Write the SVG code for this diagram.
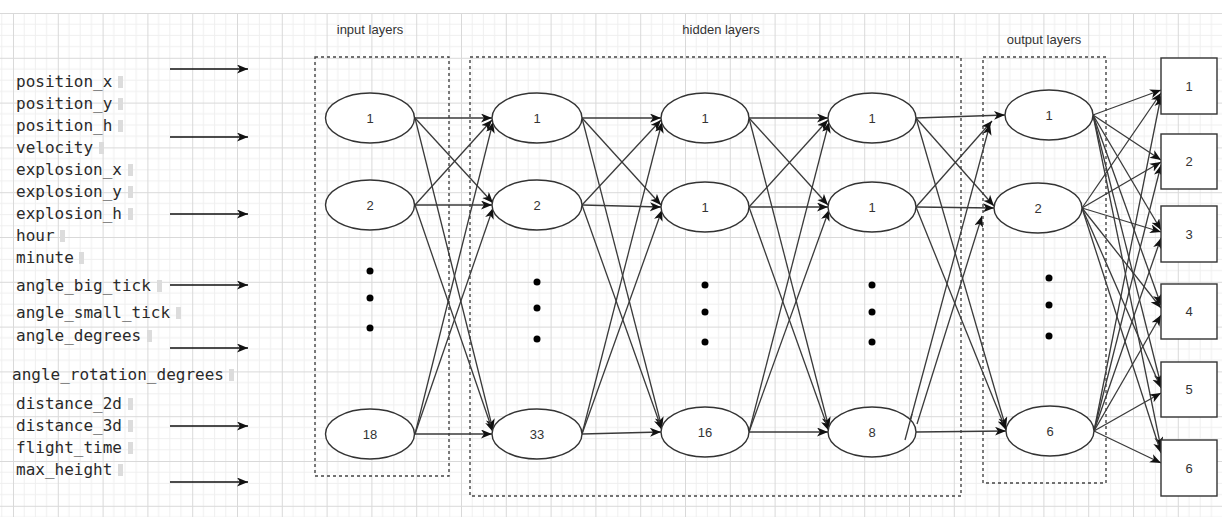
<svg xmlns="http://www.w3.org/2000/svg" width="1222" height="517" viewBox="0 0 1222 517">
<defs>
<pattern id="grid" patternUnits="userSpaceOnUse" x="13" y="13" width="44.8" height="44.8">
<path d="M11.2,0V44.8M22.4,0V44.8M33.6,0V44.8M0,11.2H44.8M0,22.4H44.8M0,33.6H44.8" stroke="#efefef" stroke-width="1" fill="none"/>
<path d="M0.5,0V44.8M0,0.5H44.8" stroke="#d9d9d9" stroke-width="1" fill="none"/>
</pattern>
<marker id="ah" markerUnits="userSpaceOnUse" markerWidth="14" markerHeight="12" refX="11" refY="4.5" orient="auto" viewBox="0 0 14 12">
<path d="M0,0 L11,4.5 L0,9 L3,4.5 Z" fill="#111"/>
</marker>
</defs>
<style>
.lbl{font-family:"DejaVu Sans Mono","Liberation Mono",monospace;font-size:16px;fill:#2a2a2a}
.ttl{font-family:"Liberation Sans",Arial,sans-serif;font-size:13px;fill:#333;text-anchor:middle}
.nt{font-family:"Liberation Sans",Arial,sans-serif;font-size:13px;fill:#333;text-anchor:middle;dominant-baseline:central}
.node ellipse,.node rect{fill:#fff;stroke:#333;stroke-width:1.4}
.dash{fill:none;stroke:#444;stroke-width:1.4;stroke-dasharray:3 3}
.mk{fill:#dcdcdc}
.dot{fill:#000}
#connectors line{stroke:#3a3a3a;stroke-width:1.3;marker-end:url(#ah)}
#connectors line.in{stroke:#111;stroke-width:1.6}
</style>
<rect width="1222" height="517" fill="#fff"/>
<rect x="0" y="13" width="1222" height="504" fill="url(#grid)"/>

<g id="input-labels">
<text class="lbl" x="16" y="87">position_x</text><rect class="mk" x="118" y="76" width="5" height="12"/>
<text class="lbl" x="16" y="109">position_y</text><rect class="mk" x="118" y="98" width="5" height="12"/>
<text class="lbl" x="16" y="131">position_h</text><rect class="mk" x="118" y="120" width="5" height="12"/>
<text class="lbl" x="16" y="153">velocity</text><rect class="mk" x="99" y="142" width="5" height="12"/>
<text class="lbl" x="16" y="175">explosion_x</text><rect class="mk" x="128" y="164" width="5" height="12"/>
<text class="lbl" x="16" y="197">explosion_y</text><rect class="mk" x="128" y="186" width="5" height="12"/>
<text class="lbl" x="16" y="219">explosion_h</text><rect class="mk" x="128" y="208" width="5" height="12"/>
<text class="lbl" x="16" y="241">hour</text><rect class="mk" x="60" y="230" width="5" height="12"/>
<text class="lbl" x="16" y="263">minute</text><rect class="mk" x="79" y="252" width="5" height="12"/>
<text class="lbl" x="16" y="291">angle_big_tick</text><rect class="mk" x="157" y="280" width="5" height="12"/>
<text class="lbl" x="16" y="318">angle_small_tick</text><rect class="mk" x="176" y="307" width="5" height="12"/>
<text class="lbl" x="16" y="341">angle_degrees</text><rect class="mk" x="147" y="330" width="5" height="12"/>
<text class="lbl" x="12" y="380">angle_rotation_degrees</text><rect class="mk" x="229" y="369" width="5" height="12"/>
<text class="lbl" x="16" y="409">distance_2d</text><rect class="mk" x="128" y="398" width="5" height="12"/>
<text class="lbl" x="16" y="431">distance_3d</text><rect class="mk" x="128" y="420" width="5" height="12"/>
<text class="lbl" x="16" y="453">flight_time</text><rect class="mk" x="128" y="442" width="5" height="12"/>
<text class="lbl" x="16" y="475">max_height</text><rect class="mk" x="118" y="464" width="5" height="12"/>
</g>

<g id="layer-titles">
<text class="ttl" x="370" y="34">input layers</text>
<text class="ttl" x="721" y="34">hidden layers</text>
<text class="ttl" x="1044" y="44">output layers</text>
</g>

<g id="layer-boxes">
<rect class="dash" x="315" y="57" width="134" height="419"/>
<rect class="dash" x="470" y="57" width="491" height="439"/>
<rect class="dash" x="983" y="57" width="123" height="426"/>
</g>

<g id="connectors">
<line class="in" x1="170" y1="69" x2="248" y2="69"/>
<line class="in" x1="170" y1="137" x2="248" y2="137"/>
<line class="in" x1="170" y1="214" x2="248" y2="214"/>
<line class="in" x1="170" y1="285" x2="248" y2="285"/>
<line class="in" x1="170" y1="348" x2="248" y2="348"/>
<line class="in" x1="170" y1="426" x2="248" y2="426"/>
<line class="in" x1="170" y1="482" x2="248" y2="482"/>

<line x1="415" y1="118" x2="492" y2="118"/>
<line x1="415" y1="118" x2="493" y2="203"/>
<line x1="415" y1="118" x2="493" y2="430"/>
<line x1="415" y1="205" x2="492" y2="120"/>
<line x1="415" y1="205" x2="492" y2="205"/>
<line x1="415" y1="205" x2="493" y2="432"/>
<line x1="415" y1="434" x2="493" y2="122"/>
<line x1="415" y1="434" x2="493" y2="208"/>
<line x1="415" y1="434" x2="492" y2="434"/>

<line x1="582" y1="118" x2="661" y2="118"/>
<line x1="582" y1="118" x2="661" y2="205"/>
<line x1="582" y1="118" x2="662" y2="428"/>
<line x1="582" y1="205" x2="661" y2="120"/>
<line x1="582" y1="205" x2="661" y2="207"/>
<line x1="582" y1="205" x2="662" y2="430"/>
<line x1="582" y1="434" x2="662" y2="122"/>
<line x1="582" y1="434" x2="662" y2="210"/>
<line x1="582" y1="434" x2="661" y2="432"/>

<line x1="749" y1="118" x2="828" y2="118"/>
<line x1="749" y1="118" x2="828" y2="205"/>
<line x1="749" y1="118" x2="829" y2="428"/>
<line x1="749" y1="207" x2="828" y2="120"/>
<line x1="749" y1="207" x2="828" y2="207"/>
<line x1="749" y1="207" x2="829" y2="431"/>
<line x1="749" y1="432" x2="829" y2="122"/>
<line x1="749" y1="432" x2="829" y2="210"/>
<line x1="749" y1="432" x2="828" y2="432"/>

<line x1="916" y1="118" x2="1005" y2="115"/>
<line x1="916" y1="118" x2="994" y2="206"/>
<line x1="916" y1="118" x2="1006" y2="428"/>
<line x1="916" y1="207" x2="992" y2="121"/>
<line x1="916" y1="207" x2="994" y2="208"/>
<line x1="916" y1="207" x2="1006" y2="430"/>
<line x1="905" y1="440" x2="990" y2="124"/>
<line x1="917" y1="424" x2="982" y2="216"/>
<line x1="916" y1="432" x2="1006" y2="431"/>

<line x1="1093" y1="115" x2="1161" y2="90"/>
<line x1="1093" y1="115" x2="1161" y2="160"/>
<line x1="1093" y1="115" x2="1161" y2="230"/>
<line x1="1093" y1="115" x2="1161" y2="305"/>
<line x1="1093" y1="115" x2="1161" y2="385"/>
<line x1="1093" y1="115" x2="1161" y2="448"/>
<line x1="1082" y1="208" x2="1161" y2="93"/>
<line x1="1082" y1="208" x2="1161" y2="162"/>
<line x1="1082" y1="208" x2="1161" y2="232"/>
<line x1="1082" y1="208" x2="1161" y2="308"/>
<line x1="1082" y1="208" x2="1161" y2="388"/>
<line x1="1082" y1="208" x2="1161" y2="453"/>
<line x1="1094" y1="431" x2="1161" y2="96"/>
<line x1="1094" y1="431" x2="1161" y2="165"/>
<line x1="1094" y1="431" x2="1161" y2="238"/>
<line x1="1094" y1="431" x2="1161" y2="315"/>
<line x1="1094" y1="431" x2="1161" y2="393"/>
<line x1="1094" y1="431" x2="1161" y2="463"/>
</g>

<g id="in-1" class="node"><ellipse cx="370" cy="118" rx="44.5" ry="25"/><text class="nt" x="370" y="118">1</text></g>
<g id="in-2" class="node"><ellipse cx="370" cy="205" rx="44.5" ry="25"/><text class="nt" x="370" y="205">2</text></g>
<g id="in-18" class="node"><ellipse cx="370" cy="434" rx="44.5" ry="25"/><text class="nt" x="370" y="434">18</text></g>
<g id="in-dots"><circle class="dot" cx="370" cy="271" r="3.5"/><circle class="dot" cx="370" cy="298" r="3.5"/><circle class="dot" cx="370" cy="328" r="3.5"/></g>

<g id="h1-1" class="node"><ellipse cx="537" cy="118" rx="45" ry="25"/><text class="nt" x="537" y="118">1</text></g>
<g id="h1-2" class="node"><ellipse cx="537" cy="205" rx="45" ry="25"/><text class="nt" x="537" y="205">2</text></g>
<g id="h1-33" class="node"><ellipse cx="537" cy="434" rx="45" ry="25"/><text class="nt" x="537" y="434">33</text></g>
<g id="h1-dots"><circle class="dot" cx="537" cy="282" r="3.5"/><circle class="dot" cx="537" cy="308" r="3.5"/><circle class="dot" cx="537" cy="339" r="3.5"/></g>

<g id="h2-1" class="node"><ellipse cx="705" cy="118" rx="44" ry="25"/><text class="nt" x="705" y="118">1</text></g>
<g id="h2-2" class="node"><ellipse cx="705" cy="207" rx="44" ry="25"/><text class="nt" x="705" y="207">1</text></g>
<g id="h2-16" class="node"><ellipse cx="705" cy="432" rx="44" ry="25"/><text class="nt" x="705" y="432">16</text></g>
<g id="h2-dots"><circle class="dot" cx="705" cy="285" r="3.5"/><circle class="dot" cx="705" cy="312" r="3.5"/><circle class="dot" cx="705" cy="342" r="3.5"/></g>

<g id="h3-1" class="node"><ellipse cx="872" cy="118" rx="44" ry="25"/><text class="nt" x="872" y="118">1</text></g>
<g id="h3-2" class="node"><ellipse cx="872" cy="207" rx="44" ry="25"/><text class="nt" x="872" y="207">1</text></g>
<g id="h3-8" class="node"><ellipse cx="872" cy="432" rx="44" ry="25"/><text class="nt" x="872" y="432">8</text></g>
<g id="h3-dots"><circle class="dot" cx="872" cy="285" r="3.5"/><circle class="dot" cx="872" cy="312" r="3.5"/><circle class="dot" cx="872" cy="342" r="3.5"/></g>
<line x1="905" y1="440" x2="912" y2="414" stroke="#3a3a3a" stroke-width="1.3"/>

<g id="out-1" class="node"><ellipse cx="1049" cy="115" rx="44" ry="25"/><text class="nt" x="1049" y="115">1</text></g>
<g id="out-2" class="node"><ellipse cx="1038" cy="208" rx="44" ry="25"/><text class="nt" x="1038" y="208">2</text></g>
<g id="out-6" class="node"><ellipse cx="1050" cy="431" rx="44" ry="25"/><text class="nt" x="1050" y="431">6</text></g>
<g id="out-dots"><circle class="dot" cx="1049" cy="278" r="3.5"/><circle class="dot" cx="1049" cy="305" r="3.5"/><circle class="dot" cx="1049" cy="336" r="3.5"/></g>

<g id="box-1" class="node"><rect x="1161" y="58" width="56" height="56"/><text class="nt" x="1189" y="86">1</text></g>
<g id="box-2" class="node"><rect x="1161" y="134" width="56" height="55"/><text class="nt" x="1189" y="161">2</text></g>
<g id="box-3" class="node"><rect x="1161" y="206" width="56" height="56"/><text class="nt" x="1189" y="234">3</text></g>
<g id="box-4" class="node"><rect x="1161" y="284" width="56" height="55"/><text class="nt" x="1189" y="311">4</text></g>
<g id="box-5" class="node"><rect x="1161" y="362" width="56" height="55"/><text class="nt" x="1189" y="389">5</text></g>
<g id="box-6" class="node"><rect x="1161" y="440" width="56" height="56"/><text class="nt" x="1189" y="468">6</text></g>
</svg>
